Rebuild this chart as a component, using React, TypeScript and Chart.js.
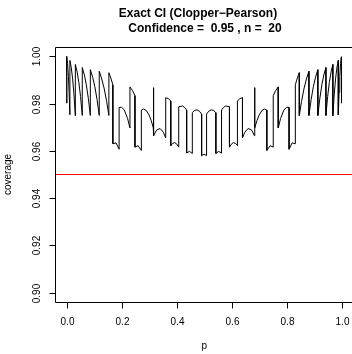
import React, { useEffect, useRef } from "react";
import { Chart, registerables } from "chart.js";

Chart.register(...registerables);

// ---- data ----
const pValues = [
  0, 0.001, 0.0013, 0.004, 0.007, 0.0095, 0.0123, 0.0123, 0.017, 0.022, 0.027, 0.0321, 0.0321,
  0.038, 0.045, 0.051, 0.0573, 0.0573, 0.065, 0.072, 0.0795, 0.0866, 0.0866, 0.095, 0.103, 0.111,
  0.119, 0.119, 0.127, 0.1365, 0.146, 0.154, 0.154, 0.161, 0.1684, 0.1684, 0.18, 0.1912, 0.1912,
  0.2, 0.21, 0.222, 0.2306, 0.2306, 0.24, 0.2487, 0.2487, 0.26, 0.272, 0.272, 0.28, 0.29, 0.3,
  0.308, 0.3153, 0.3153, 0.317, 0.317, 0.327, 0.34, 0.352, 0.3605, 0.3605, 0.37, 0.3789, 0.3789,
  0.385, 0.393, 0.4, 0.4078, 0.4078, 0.422, 0.43, 0.4366, 0.4366, 0.447, 0.4572, 0.4572, 0.465,
  0.474, 0.483, 0.491, 0.491, 0.5,
  0.509, 0.509, 0.517, 0.526, 0.535, 0.5428, 0.5428, 0.553, 0.5634, 0.5634, 0.57, 0.578, 0.5922,
  0.5922, 0.6, 0.607, 0.615, 0.6211, 0.6211, 0.63, 0.6395, 0.6395, 0.648, 0.66, 0.673, 0.683,
  0.683, 0.6847, 0.6847, 0.692, 0.7, 0.71, 0.72, 0.728, 0.728, 0.74, 0.7513, 0.7513, 0.76, 0.7694,
  0.7694, 0.778, 0.79, 0.8, 0.8088, 0.8088, 0.82, 0.8316, 0.8316, 0.839, 0.846, 0.846, 0.854,
  0.8635, 0.873, 0.881, 0.881, 0.889, 0.897, 0.905, 0.9134, 0.9134, 0.9205, 0.928, 0.935, 0.9427,
  0.9427, 0.949, 0.955, 0.962, 0.9679, 0.9679, 0.973, 0.978, 0.983, 0.9877, 0.9877, 0.9905, 0.993,
  0.996, 0.9987, 0.999, 1.0,
];

const coverageValues = [
  1.0, 0.9802, 0.9997, 0.9971, 0.9915, 0.9847, 0.9753, 0.9983, 0.9955, 0.9908, 0.9841, 0.9749, 0.9966,
  0.9938, 0.9889, 0.983, 0.975, 0.9953, 0.9921, 0.988, 0.9821, 0.975, 0.9944, 0.9912, 0.9872, 0.9817,
  0.975, 0.9937, 0.9909, 0.9866, 0.9809, 0.975, 0.9931, 0.9909, 0.988, 0.963, 0.9634, 0.9607, 0.9784,
  0.9785, 0.9773, 0.9737, 0.9697, 0.9871, 0.9855, 0.9834, 0.9616, 0.9622, 0.9602, 0.9773, 0.9777, 0.9771, 0.9752,
  0.9728, 0.9698, 0.9868, 0.9864, 0.9664, 0.9688, 0.9695, 0.9679, 0.9655, 0.9825, 0.9822, 0.9811, 0.9622,
  0.9631, 0.9635, 0.963, 0.9616, 0.9787, 0.979, 0.9783, 0.9773, 0.9591, 0.9598, 0.9589, 0.9762, 0.9771,
  0.9774, 0.9768, 0.9756, 0.958, 0.9586,
  0.958, 0.9756, 0.9768, 0.9774, 0.9771, 0.9762, 0.9589, 0.9598, 0.9591, 0.9773, 0.9783, 0.979, 0.9787,
  0.9616, 0.963, 0.9635, 0.9631, 0.9622, 0.9811, 0.9822, 0.9825, 0.9655, 0.9679, 0.9695, 0.9688, 0.9664,
  0.9864, 0.9868, 0.9698, 0.9728, 0.9752, 0.9771, 0.9777, 0.9773, 0.9602, 0.9622, 0.9616, 0.9834, 0.9855, 0.9871,
  0.9697, 0.9737, 0.9773, 0.9785, 0.9784, 0.9607, 0.9634, 0.963, 0.988, 0.9909, 0.9931, 0.975, 0.9809,
  0.9866, 0.9909, 0.9937, 0.975, 0.9817, 0.9872, 0.9912, 0.9944, 0.975, 0.9821, 0.988, 0.9921, 0.9953,
  0.975, 0.983, 0.9889, 0.9938, 0.9966, 0.9749, 0.9841, 0.9908, 0.9955, 0.9983, 0.9753, 0.9847, 0.9915,
  0.9971, 0.9997, 0.9802, 1.0,
];

const referenceLevel = 0.95;

const xTicks = [0, 0.2, 0.4, 0.6, 0.8, 1.0];
const xTickLabels = ["0.0", "0.2", "0.4", "0.6", "0.8", "1.0"];
const yTicks = [0.9, 0.92, 0.94, 0.96, 0.98, 1.0];
const yTickLabels = ["0.90", "0.92", "0.94", "0.96", "0.98", "1.00"];

const titleLines = ["Exact CI (Clopper\u2212Pearson)", "Confidence =  0.95 , n =  20"];
const xTitle = "p";
const yTitle = "coverage";

const FONT = "'Liberation Sans', Arial, Helvetica, sans-serif";

const rAxesPlugin = {
  id: "rAxes",
  afterDraw(chart: any) {
    const { ctx, chartArea: a, scales } = chart;
    const xs = scales.x;
    const ys = scales.y;
    const top = Math.round(a.top) + 0.5;
    const bottom = Math.round(a.bottom) + 0.5;
    const left = Math.round(a.left - 0.5) + 0.5;
    ctx.save();
    ctx.strokeStyle = "#000";
    ctx.lineWidth = 1;
    // box (right edge lies just outside the canvas)
    ctx.beginPath();
    ctx.moveTo(a.right + 3, top);
    ctx.lineTo(left, top);
    ctx.lineTo(left, bottom);
    ctx.lineTo(a.right + 3, bottom);
    ctx.stroke();

    ctx.fillStyle = "#000";
    ctx.font = `10px ${FONT}`;
    // x axis ticks and labels
    ctx.textAlign = "center";
    ctx.textBaseline = "middle";
    xTicks.forEach((v, i) => {
      const px = Math.round(xs.getPixelForValue(v)) + 0.5;
      ctx.beginPath();
      ctx.moveTo(px, bottom);
      ctx.lineTo(px, bottom + 6);
      ctx.stroke();
      ctx.fillText(xTickLabels[i], px, bottom + 20);
    });
    // y axis ticks and rotated labels
    yTicks.forEach((v, i) => {
      const py = Math.round(ys.getPixelForValue(v)) + 0.5;
      ctx.beginPath();
      ctx.moveTo(left, py);
      ctx.lineTo(left - 6, py);
      ctx.stroke();
      ctx.save();
      ctx.translate(left - 18, py);
      ctx.rotate(-Math.PI / 2);
      ctx.fillText(yTickLabels[i], 0, 0);
      ctx.restore();
    });
    // axis titles
    const cx = (a.left + a.right + 1) / 2;
    ctx.fillText(xTitle, cx, 346);
    ctx.save();
    ctx.translate(8.5, (a.top + a.bottom) / 2);
    ctx.rotate(-Math.PI / 2);
    ctx.fillText(yTitle, 0, 0);
    ctx.restore();
    // main title
    ctx.font = `bold 12px ${FONT}`;
    ctx.fillText(titleLines[0], 198, 13.5);
    ctx.fillText(titleLines[1], 205, 28.5);
    ctx.restore();
  },
};

export default function App() {
  const canvasRef = useRef<HTMLCanvasElement | null>(null);

  useEffect(() => {
    const canvas = canvasRef.current;
    if (!canvas) return;
    const points = pValues.map((p, i) => ({ x: p, y: coverageValues[i] }));
    const chart = new Chart(canvas, {
      type: "scatter",
      data: {
        datasets: [
          {
            data: points,
            showLine: true,
            borderColor: "#000",
            borderWidth: 1,
            pointRadius: 0,
            tension: 0,
          },
          {
            data: [
              { x: -0.1, y: referenceLevel },
              { x: 1.1, y: referenceLevel },
            ],
            showLine: true,
            borderColor: "#ff0000",
            borderWidth: 1,
            pointRadius: 0,
          },
        ],
      },
      options: {
        animation: false,
        responsive: false,
        devicePixelRatio: 1,
        layout: { padding: { left: 55.5, right: 0, top: 47, bottom: 52 } },
        plugins: { legend: { display: false }, tooltip: { enabled: false }, title: { display: false } },
        scales: {
          x: { type: "linear", display: false, min: -0.04, max: 1.0375 },
          y: { type: "linear", display: false, min: 0.896, max: 1.004 },
        },
      },
      plugins: [rAxesPlugin],
    });
    return () => chart.destroy();
  }, []);

  return (
    <div style={{ position: "fixed", left: 0, top: 0, width: 352, height: 354, background: "#fff" }}>
      <canvas ref={canvasRef} width={352} height={354} style={{ display: "block" }} />
    </div>
  );
}
